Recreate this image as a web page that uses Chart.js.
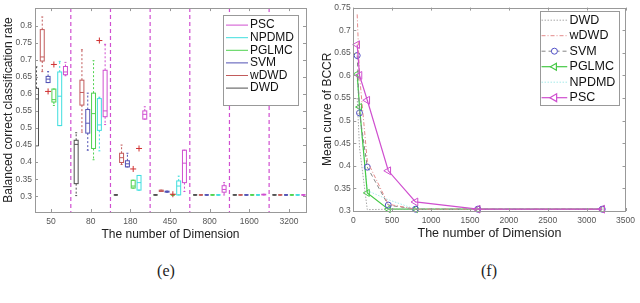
<!DOCTYPE html>
<html>
<head>
<meta charset="utf-8">
<script src="https://cdn.jsdelivr.net/npm/chart.js@4.4.1/dist/chart.umd.min.js"></script>
<style>
  body { margin: 0; background: #fff; width: 640px; height: 303px; overflow: hidden; position: relative; }
  canvas { position: absolute; top: 0; }
  #boxChart { left: 0; }
  #meanChart { left: 320px; }
  .caption { position: absolute; top: 262px; width: 40px; text-align: center; font: 16px "Liberation Serif", "Times New Roman", serif; color: #222; }
</style>
</head>
<body>
<canvas id="boxChart" width="320" height="250"></canvas>
<canvas id="meanChart" width="320" height="250"></canvas>
<div class="caption" style="left:146px">(e)</div>
<div class="caption" style="left:469px">(f)</div>
<script>
const dimLabels = ["50", "80", "180", "450", "800", "1600", "3200"];
const dimValues = [50, 80, 180, 450, 800, 1600, 3200];
const methods = ["DWD", "wDWD", "SVM", "PGLMC", "NPDMD", "PSC"];

// box stats per dimension: [lower whisker, q1, median, q3, upper whisker]
const boxDWD = [
    [0.448, 0.448, 0.585, 0.616, 0.679],
    [0.302, 0.337, 0.452, 0.464, 0.486],
    [0.304, 0.304, 0.304, 0.304, 0.304],
    [0.304, 0.304, 0.304, 0.304, 0.304],
    [0.304, 0.304, 0.304, 0.304, 0.304],
    [0.304, 0.304, 0.304, 0.304, 0.304],
    [0.304, 0.304, 0.304, 0.304, 0.304]
];
const boxWDWD = [
    [0.665, 0.696, 0.708, 0.788, 0.825],
    [0.488, 0.567, 0.604, 0.640, 0.729],
    [0.393, 0.399, 0.413, 0.426, 0.450],
    [0.314, 0.314, 0.316, 0.318, 0.318],
    [0.304, 0.304, 0.304, 0.304, 0.304],
    [0.304, 0.304, 0.304, 0.304, 0.304],
    [0.304, 0.304, 0.304, 0.304, 0.304]
];
const boxSVM = [
    [0.633, 0.633, 0.643, 0.651, 0.665],
    [0.435, 0.485, 0.514, 0.554, 0.602],
    [0.386, 0.386, 0.395, 0.404, 0.426],
    [0.312, 0.312, 0.314, 0.315, 0.315],
    [0.304, 0.304, 0.304, 0.304, 0.304],
    [0.304, 0.304, 0.304, 0.304, 0.304],
    [0.304, 0.304, 0.304, 0.304, 0.304]
];
const boxPGLMC = [
    [0.566, 0.576, 0.583, 0.614, 0.614],
    [0.407, 0.440, 0.542, 0.602, 0.697],
    [0.324, 0.324, 0.330, 0.347, 0.347],
    [0.304, 0.304, 0.304, 0.304, 0.304],
    [0.304, 0.304, 0.304, 0.304, 0.304],
    [0.304, 0.304, 0.304, 0.304, 0.304],
    [0.304, 0.304, 0.304, 0.304, 0.304]
];
const boxNPDMD = [
    [0.507, 0.507, 0.593, 0.664, 0.695],
    [0.433, 0.493, 0.509, 0.586, 0.590],
    [0.318, 0.318, 0.340, 0.361, 0.361],
    [0.304, 0.304, 0.330, 0.345, 0.359],
    [0.304, 0.304, 0.304, 0.304, 0.304],
    [0.304, 0.304, 0.304, 0.304, 0.304],
    [0.304, 0.304, 0.304, 0.304, 0.304]
];
const boxPSC = [
    [0.653, 0.656, 0.664, 0.680, 0.692],
    [0.510, 0.533, 0.550, 0.669, 0.745],
    [0.526, 0.526, 0.540, 0.550, 0.562],
    [0.314, 0.340, 0.397, 0.435, 0.435],
    [0.304, 0.312, 0.320, 0.331, 0.340],
    [0.304, 0.304, 0.305, 0.306, 0.306],
    [0.304, 0.304, 0.304, 0.304, 0.304]
];

// outliers: [dimension index, value]
const outDWD = [];
const outWDWD = [];
const outSVM = [[0, 0.607]];
const outPGLMC = [[0, 0.686], [2, 0.380], [3, 0.306]];
const outNPDMD = [[1, 0.756], [2, 0.440]];
const outPSC = [];

// mean BCCR per dimension
const meanDWD = [0.550, 0.440, 0.303, 0.304, 0.304, 0.304, 0.304];
const meanWDWD = [0.735, 0.600, 0.410, 0.315, 0.304, 0.304, 0.304];
const meanSVM = [0.644, 0.517, 0.397, 0.313, 0.304, 0.304, 0.304];
const meanPGLMC = [0.603, 0.530, 0.340, 0.304, 0.304, 0.304, 0.304];
const meanNPDMD = [0.590, 0.520, 0.345, 0.325, 0.304, 0.304, 0.304];
const meanPSC = [0.668, 0.600, 0.545, 0.389, 0.320, 0.304, 0.304];

const boxTicksY = [0.3, 0.35, 0.4, 0.45, 0.5, 0.55, 0.6, 0.65, 0.7, 0.75, 0.8];
const meanTicksX = [0, 500, 1000, 1500, 2000, 2500, 3000, 3500];
const meanTicksY = [0.3, 0.35, 0.4, 0.45, 0.5, 0.55, 0.6, 0.65, 0.7, 0.75];
const separators = [1.5, 2.5, 3.5, 4.5, 5.5, 6.5];

const boxStats = [boxDWD, boxWDWD, boxSVM, boxPGLMC, boxNPDMD, boxPSC];
const boxOutliers = [outDWD, outWDWD, outSVM, outPGLMC, outNPDMD, outPSC];
const meanSeries = [meanDWD, meanWDWD, meanSVM, meanPGLMC, meanNPDMD, meanPSC];

const boxColors = ["#505050", "#c25b5b", "#5252b4", "#4fd24f", "#3fdede", "#d04fd0"];
const boxOffsets = [-0.365, -0.22, -0.073, 0.073, 0.22, 0.365];
const boxHalfWidth = 0.05;

const tickColor = "#555";
const titleColor = "#222";
const frameColor = "#999";

Chart.defaults.font.family = '"Liberation Sans", Arial, sans-serif';

function fmt(v) {
    return String(parseFloat(v.toFixed(2)));
}

function line(ctx, x0, y0, x1, y1) {
    ctx.beginPath();
    ctx.moveTo(x0, y0);
    ctx.lineTo(x1, y1);
    ctx.stroke();
}

// axes box with inward tick marks on all four sides
const framePlugin = {
    id: "frame",
    afterDatasetsDraw(chart) {
        const { ctx, chartArea: a, scales: { x, y } } = chart;
        ctx.save();
        ctx.strokeStyle = frameColor;
        ctx.lineWidth = 1;
        ctx.setLineDash([]);
        ctx.strokeRect(Math.round(a.left) + 0.5, Math.round(a.top) + 0.5, Math.round(a.width), Math.round(a.height));
        x.ticks.forEach((t, i) => {
            const px = Math.round(x.getPixelForTick(i)) + 0.5;
            line(ctx, px, a.bottom, px, a.bottom - 3);
            line(ctx, px, a.top, px, a.top + 3);
        });
        y.ticks.forEach((t, i) => {
            const py = Math.round(y.getPixelForTick(i)) + 0.5;
            line(ctx, a.left, py, a.left + 3, py);
            line(ctx, a.right, py, a.right - 3, py);
        });
        ctx.restore();
    }
};

// box plots and group separators
const boxPlugin = {
    id: "boxes",
    beforeDatasetsDraw(chart) {
        const { ctx, chartArea: a, scales: { x, y } } = chart;
        ctx.save();
        ctx.beginPath();
        ctx.rect(a.left, a.top, a.width, a.height);
        ctx.clip();

        ctx.strokeStyle = "#d04fd0";
        ctx.lineWidth = 1.2;
        ctx.setLineDash([4, 3]);
        separators.forEach(v => {
            const px = x.getPixelForValue(v);
            line(ctx, px, a.top, px, a.bottom);
        });

        const hw = x.getPixelForValue(1 + boxHalfWidth) - x.getPixelForValue(1);
        chart.data.datasets.forEach((ds, mi) => {
            ctx.strokeStyle = ds.borderColor;
            ctx.lineWidth = 1;
            ds.stats.forEach((s, gi) => {
                const cx = x.getPixelForValue(gi + 1 + boxOffsets[mi]);
                const [lo, q1, med, q3, hi] = s.map(v => y.getPixelForValue(v));
                ctx.setLineDash([2, 2]);
                if (hi < q3) line(ctx, cx, q3, cx, hi);
                if (lo > q1) line(ctx, cx, q1, cx, lo);
                ctx.setLineDash([]);
                line(ctx, cx - hw / 2, hi, cx + hw / 2, hi);
                line(ctx, cx - hw / 2, lo, cx + hw / 2, lo);
                ctx.strokeRect(cx - hw, q3, 2 * hw, q1 - q3);
                line(ctx, cx - hw, med, cx + hw, med);
            });
        });
        ctx.restore();
    }
};

// framed legend in the top right corner of the plot area
const legendPlugin = {
    id: "legendBox",
    afterDatasetsDraw(chart, args, opts) {
        const { ctx, chartArea: a } = chart;
        const left = a.right - opts.inset - opts.width;
        const top = a.top + opts.top;
        const items = opts.reverse ? chart.data.datasets.slice().reverse() : chart.data.datasets;
        ctx.save();
        ctx.fillStyle = "#fff";
        ctx.fillRect(left, top, opts.width, opts.height);
        ctx.strokeStyle = frameColor;
        ctx.lineWidth = 1;
        ctx.strokeRect(Math.round(left) + 0.5, Math.round(top) + 0.5, opts.width, opts.height);
        ctx.font = opts.fontSize + 'px "Liberation Sans", Arial, sans-serif';
        ctx.textBaseline = "middle";
        items.forEach((ds, i) => {
            const cy = top + opts.firstRow + i * opts.rowHeight;
            const x0 = left + opts.lineStart;
            const x1 = left + opts.lineEnd;
            ctx.strokeStyle = ds.borderColor;
            ctx.lineWidth = ds.borderWidth || 1;
            ctx.setLineDash(opts.markers ? (ds.borderDash || []) : []);
            line(ctx, x0, cy, x1, cy);
            ctx.setLineDash([]);
            if (opts.markers && ds.pointRadius > 0) {
                ctx.strokeStyle = ds.pointBorderColor;
                ctx.fillStyle = "#fff";
                Chart.helpers.drawPoint(ctx, {
                    pointStyle: ds.pointStyle,
                    rotation: ds.pointRotation || 0,
                    radius: ds.pointRadius,
                    borderWidth: 1
                }, (x0 + x1) / 2, cy);
            }
            ctx.fillStyle = "#111";
            ctx.fillText(ds.label, left + opts.textX, cy);
        });
        ctx.restore();
    }
};

const boxDatasets = methods.map((m, i) => ({
    label: m,
    data: boxOutliers[i].map(([gi, v]) => ({ x: gi + 1 + boxOffsets[i], y: v })),
    stats: boxStats[i],
    borderColor: boxColors[i],
    pointBorderColor: "#d03030",
    pointStyle: "cross",
    pointRadius: 3,
    pointBorderWidth: 1,
    borderWidth: 1
}));

new Chart(document.getElementById("boxChart"), {
    type: "scatter",
    data: { datasets: boxDatasets },
    plugins: [boxPlugin, framePlugin, legendPlugin],
    options: {
        responsive: false,
        animation: false,
        devicePixelRatio: 1,
        layout: { padding: { top: 3, right: 14, left: 0, bottom: 0 } },
        plugins: {
            legend: { display: false },
            tooltip: { enabled: false },
            legendBox: {
                inset: 8, top: 7, width: 75, height: 90,
                firstRow: 10, rowHeight: 12.6,
                lineStart: 3, lineEnd: 25, textX: 27,
                fontSize: 12, reverse: true, markers: false
            }
        },
        scales: {
            x: {
                type: "linear",
                min: 0.597,
                max: 7.43,
                afterBuildTicks: s => { s.ticks = dimLabels.map((d, i) => ({ value: i + 1 })); },
                afterFit: s => { s.height = 38; },
                grid: { display: false, drawTicks: false },
                border: { display: false },
                ticks: { padding: 5, color: tickColor, font: { size: 8.5 }, callback: v => dimLabels[v - 1] },
                title: { display: true, text: "The number of Dimension", color: titleColor, font: { size: 12 }, padding: { top: 0, bottom: 7.8 } }
            },
            y: {
                min: 0.254,
                max: 0.851,
                afterBuildTicks: s => { s.ticks = boxTicksY.map(v => ({ value: v })); },
                afterFit: s => { s.width = 35; },
                grid: { display: false, drawTicks: false },
                border: { display: false },
                ticks: { padding: 3, color: tickColor, font: { size: 8.5 }, callback: v => fmt(v) },
                title: { display: true, text: "Balanced correct classification rate", color: titleColor, font: { size: 12 }, padding: { top: 1, bottom: 0 } }
            }
        }
    }
});

const meanStyles = [
    { borderColor: "#a8a8a8", borderDash: [1.5, 1.5], borderWidth: 1, pointRadius: 0 },
    { borderColor: "#e48a8a", borderDash: [4, 2, 1, 2], borderWidth: 1, pointRadius: 0 },
    { borderColor: "#858585", borderDash: [4, 3], borderWidth: 1, pointStyle: "circle", pointRadius: 3, pointBorderColor: "#5050c8" },
    { borderColor: "#45c845", borderDash: [], borderWidth: 1.2, pointStyle: "triangle", pointRotation: -90, pointRadius: 4, pointBorderColor: "#45c845" },
    { borderColor: "#a6eaea", borderDash: [1.5, 1.5], borderWidth: 1, pointRadius: 0 },
    { borderColor: "#cf4fcf", borderDash: [], borderWidth: 1.2, pointStyle: "triangle", pointRotation: -90, pointRadius: 4.5, pointBorderColor: "#cf4fcf" }
];

const meanDatasets = methods.map((m, i) => Object.assign({
    label: m,
    data: dimValues.map((d, j) => ({ x: d, y: meanSeries[i][j] })),
    showLine: true,
    fill: false,
    tension: 0,
    clip: false,
    pointBackgroundColor: "rgba(255,255,255,0)",
    pointBorderWidth: 1,
    order: m === "PSC" ? 0 : 1
}, meanStyles[i]));

new Chart(document.getElementById("meanChart"), {
    type: "scatter",
    data: { datasets: meanDatasets },
    plugins: [framePlugin, legendPlugin],
    options: {
        responsive: false,
        animation: false,
        devicePixelRatio: 1,
        layout: { padding: { top: 6.7, right: 10, left: 0, bottom: 0 } },
        plugins: {
            legend: { display: false },
            tooltip: { enabled: false },
            legendBox: {
                inset: 7, top: 3.3, width: 79, height: 94,
                firstRow: 9.3, rowHeight: 15.5,
                lineStart: 2, lineEnd: 27.7, textX: 30,
                fontSize: 12.5, reverse: false, markers: true
            }
        },
        scales: {
            x: {
                type: "linear",
                min: 0,
                max: 3500,
                afterBuildTicks: s => { s.ticks = meanTicksX.map(v => ({ value: v })); },
                afterFit: s => { s.height = 39; },
                grid: { display: false, drawTicks: false },
                border: { display: false },
                ticks: { padding: 5, color: tickColor, font: { size: 8.5 }, callback: v => String(v) },
                title: { display: true, text: "The number of Dimension", color: titleColor, font: { size: 12.5 }, padding: { top: 0, bottom: 8.5 } }
            },
            y: {
                min: 0.3,
                max: 0.75,
                afterBuildTicks: s => { s.ticks = meanTicksY.map(v => ({ value: v })); },
                afterFit: s => { s.width = 33.3; },
                grid: { display: false, drawTicks: false },
                border: { display: false },
                ticks: { padding: 2.5, color: tickColor, font: { size: 8.5 }, callback: v => fmt(v) },
                title: { display: true, text: "Mean curve of BCCR", color: titleColor, font: { size: 12 }, padding: { top: 0, bottom: 0 } }
            }
        }
    }
});
</script>
</body>
</html>
